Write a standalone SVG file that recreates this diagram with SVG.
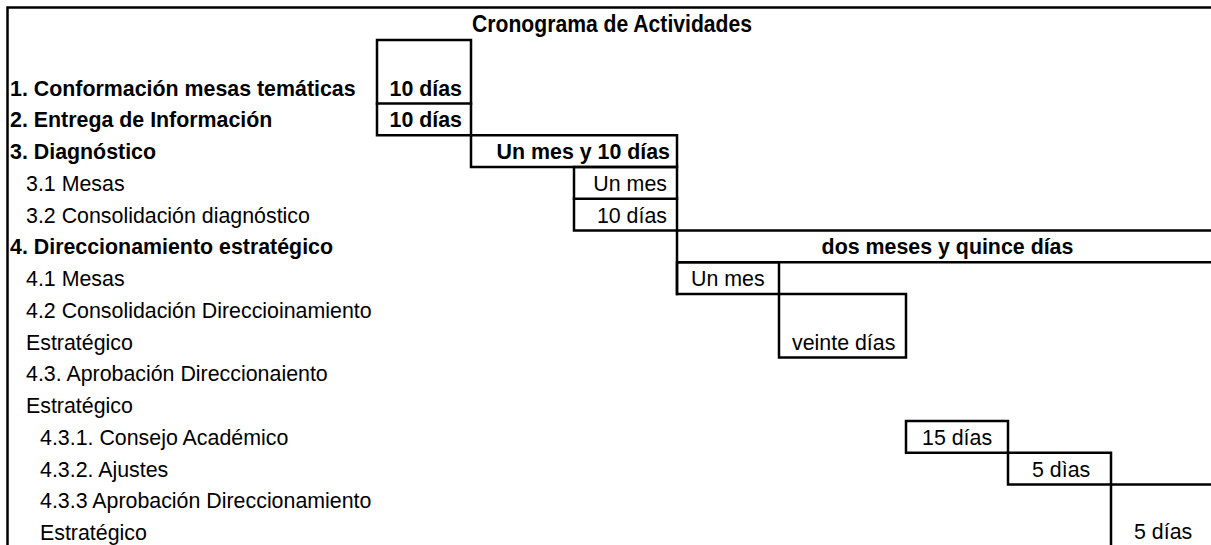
<svg xmlns="http://www.w3.org/2000/svg" width="1211" height="545" viewBox="0 0 1211 545">
<style>
text{font-family:"Liberation Sans",Arial,sans-serif;font-size:23px;fill:#000}
.b{font-weight:bold}
.e{text-anchor:end}
.m{text-anchor:middle}
.ln{fill:none;stroke:#000;stroke-width:2.5;stroke-linecap:square}
</style>
<rect width="1211" height="545" fill="#fff"/>
<g id="frame">
<path class="ln" d="M7.5,547 V7.5 H1213"/>
<text class="b m" transform="translate(612,32) scale(0.92,1)">Cronograma de Actividades</text>
</g>
<g id="labels">
<text class="b" transform="translate(10,95.5) scale(0.93,1)">1. Conformación mesas temáticas</text>
<text class="b" transform="translate(10,127) scale(0.93,1)">2. Entrega de Información</text>
<text class="b" transform="translate(10,159) scale(0.93,1)">3. Diagnóstico</text>
<text transform="translate(26,191) scale(0.93,1)">3.1 Mesas</text>
<text transform="translate(26,222.5) scale(0.93,1)">3.2 Consolidación diagnóstico</text>
<text class="b" transform="translate(10,254) scale(0.93,1)">4. Direccionamiento estratégico</text>
<text transform="translate(26,286) scale(0.93,1)">4.1 Mesas</text>
<text transform="translate(26,318) scale(0.93,1)">4.2 Consolidación Direccioinamiento</text>
<text transform="translate(26,349.5) scale(0.93,1)">Estratégico</text>
<text transform="translate(26,381) scale(0.93,1)">4.3. Aprobación Direccionaiento</text>
<text transform="translate(26,413) scale(0.93,1)">Estratégico</text>
<text transform="translate(40,445) scale(0.93,1)">4.3.1. Consejo Académico</text>
<text transform="translate(40,476.5) scale(0.93,1)">4.3.2. Ajustes</text>
<text transform="translate(40,508) scale(0.93,1)">4.3.3 Aprobación Direccionamiento</text>
<text transform="translate(40,540) scale(0.93,1)">Estratégico</text>
</g>
<g id="bar-1-2">
<rect class="ln" x="377" y="40" width="94" height="95.25"/>
<path class="ln" d="M377,103.5 H471"/>
<text class="b e" transform="translate(462,95.5) scale(0.93,1)">10 días</text>
<text class="b e" transform="translate(462,127) scale(0.93,1)">10 días</text>
</g>
<g id="bar-3">
<rect class="ln" x="471" y="135.25" width="206" height="31.75"/>
<text class="b e" transform="translate(670,159) scale(0.93,1)">Un mes y 10 días</text>
</g>
<g id="bar-3-1-3-2">
<rect class="ln" x="574" y="167" width="103" height="63.5"/>
<path class="ln" d="M574,198.75 H677"/>
<text class="e" transform="translate(667,191) scale(0.93,1)">Un mes</text>
<text class="e" transform="translate(667,222.5) scale(0.93,1)">10 días</text>
</g>
<g id="bar-4">
<path class="ln" d="M1213,230.5 H677 V294 M677,262.25 H1213"/>
<text class="b m" transform="translate(947.5,254) scale(0.93,1)">dos meses y quince días</text>
</g>
<g id="bar-4-1">
<rect class="ln" x="677" y="262.25" width="102" height="31.75"/>
<text transform="translate(691,286) scale(0.93,1)">Un mes</text>
</g>
<g id="bar-4-2">
<rect class="ln" x="779" y="294" width="127" height="63.5"/>
<text transform="translate(792,349.5) scale(0.93,1)">veinte días</text>
</g>
<g id="bar-4-3-1">
<rect class="ln" x="906" y="421" width="102" height="31.75"/>
<text transform="translate(922,445) scale(0.93,1)">15 días</text>
</g>
<g id="bar-4-3-2">
<rect class="ln" x="1008" y="452.75" width="103" height="31.75"/>
<text transform="translate(1032,476.5) scale(0.93,1)">5 dìas</text>
</g>
<g id="bar-4-3-3">
<path class="ln" d="M1213,484.5 H1111 V547"/>
<text transform="translate(1134,539) scale(0.93,1)">5 días</text>
</g>
</svg>
